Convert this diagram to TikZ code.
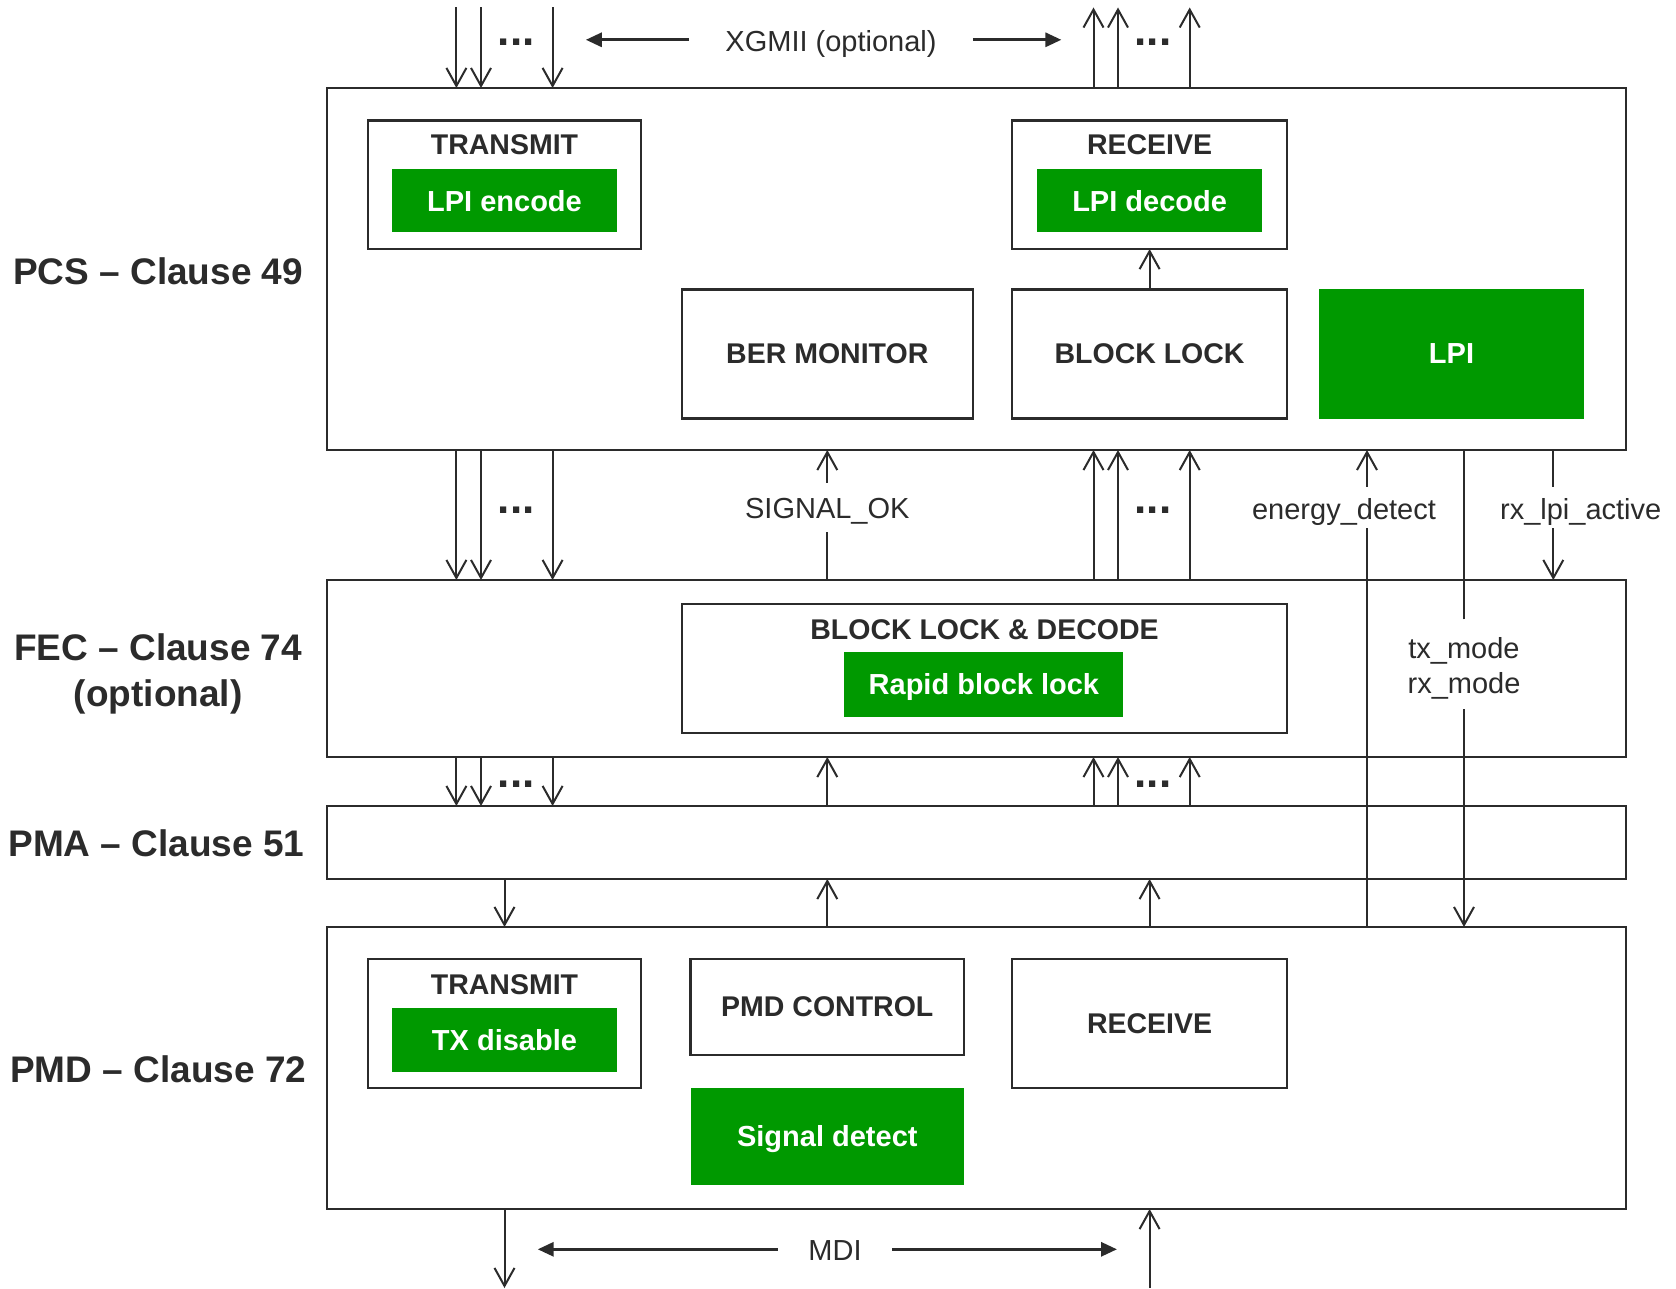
\documentclass[tikz,border=0pt]{standalone}
\usepackage{fontspec}
\setmainfont{Liberation Sans}
\usetikzlibrary{arrows.meta}
\definecolor{ink}{HTML}{2B2B2B}
\definecolor{lpigreen}{HTML}{009900}

\begin{document}
\begin{tikzpicture}[x=1pt,y=-1pt,
  box/.style={draw=ink, line width=2.2pt, fill=white, inner sep=0pt, outer sep=0pt,
    text depth=0pt, text=ink, font=\fontsize{28.5}{32}\selectfont\bfseries},
  gbox/.style={fill=lpigreen, inner sep=0pt, outer sep=0pt, text depth=0pt,
    text=white, font=\fontsize{29}{32}\selectfont\bfseries},
  title/.style={inner sep=0pt, text=ink, font=\fontsize{28.5}{32}\selectfont\bfseries},
  layer/.style={inner sep=0pt, text=ink, font=\fontsize{37}{42}\selectfont\bfseries},
  lbl/.style={inner sep=0pt, text=ink, font=\fontsize{29}{34}\selectfont},
  dots/.style={inner sep=0pt, text=ink, font=\fontsize{44}{48}\selectfont\bfseries},
  ln/.style={draw=ink, line width=2pt},
  arr/.style={ln, -{Straight Barb[length=18pt,width=20pt]}},
  big/.style={draw=ink, line width=3pt, -{Triangle[length=16pt,width=14pt]}}
]
\useasboundingbox (0,0) rectangle (1676,1289);

% ---- layer boxes ----
\node[box, minimum width=1299pt, minimum height=362pt] (pcs) at (976.5,269) {};
\node[box, minimum width=1299pt, minimum height=177pt] (fec) at (976.5,668.5) {};
\node[box, minimum width=1299pt, minimum height=73pt]  (pma) at (976.5,842.5) {};
\node[box, minimum width=1299pt, minimum height=282pt] (pmd) at (976.5,1068) {};

% ---- layer names ----
\node[layer, anchor=base] (pcsname) at (158.2,284.7) {PCS – Clause 49};
\node[layer, anchor=base] (fecname) at (158.2,660) {FEC – Clause 74};
\node[layer, anchor=base] (fecopt)  at (158.2,706) {(optional)};
\node[layer, anchor=base] (pmaname) at (156.5,856.7) {PMA – Clause 51};
\node[layer, anchor=base] (pmdname) at (158.2,1082) {PMD – Clause 72};

% ---- PCS contents ----
\node[box, minimum width=273.6pt, minimum height=128.5pt] (pcstx) at (504.5,184.8) {};
\node[title, anchor=base] (pcstxt) at (504.5,155) {TRANSMIT};
\node[gbox, minimum width=224.5pt, minimum height=63.5pt] (lpienc) at (504.5,200.5) {LPI encode};

\node[box, minimum width=274.8pt, minimum height=128.5pt] (pcsrx) at (1149.6,184.8) {};
\node[title, anchor=base] (pcsrxt) at (1149.6,155) {RECEIVE};
\node[gbox, minimum width=225.6pt, minimum height=63.5pt] (lpidec) at (1149.6,200.5) {LPI decode};

\node[box, minimum width=290.7pt, minimum height=129pt] (ber) at (827.3,354) {BER MONITOR};
\node[box, minimum width=274.8pt, minimum height=129pt] (blk) at (1149.6,354) {BLOCK LOCK};
\node[gbox, minimum width=265pt, minimum height=129pt] (lpi) at (1451.5,354) {LPI};

% ---- FEC contents ----
\node[box, minimum width=605pt, minimum height=129.3pt] (bld) at (984.5,668.7) {};
\node[title, anchor=base] (bldt) at (984.5,639.3) {BLOCK LOCK \& DECODE};
\node[gbox, minimum width=279pt, minimum height=64.5pt] (rbl) at (983.9,684.3) {Rapid block lock};

% ---- PMD contents ----
\node[box, minimum width=273.6pt, minimum height=129.3pt] (pmdtx) at (504.5,1023.4) {};
\node[title, anchor=base] (pmdtxt) at (504.5,994) {TRANSMIT};
\node[gbox, minimum width=224.5pt, minimum height=64pt] (txdis) at (504.5,1040) {TX disable};
\node[box, minimum width=273.6pt, minimum height=96.2pt] (pmdctl) at (827.3,1006.9) {PMD CONTROL};
\node[gbox, minimum width=273.6pt, minimum height=96.7pt] (sigdet) at (827.3,1136.4) {Signal detect};
\node[box, minimum width=274.8pt, minimum height=129.3pt] (pmdrx) at (1149.6,1023.4) {RECEIVE};

% ---- connector columns and free ends ----
\coordinate (cA) at (456.4,0);
\coordinate (cB) at (481,0);
\coordinate (cC) at (552.6,0);
\coordinate (cD) at (1093.5,0);
\coordinate (cE) at (1118,0);
\coordinate (cF) at (1189.7,0);
\coordinate (cS) at (827.3,0);
\coordinate (cT) at (504.5,0);
\coordinate (cR) at (1149.6,0);
\coordinate (top) at (0,7.5);
\coordinate (bot) at (0,1288);

% data paths
\foreach \c in {cA,cB,cC} {
  \draw[arr] (\c |- top) -- (\c |- pcs.north);
  \draw[arr] (\c |- pcs.south) -- (\c |- fec.north);
  \draw[arr] (\c |- fec.south) -- (\c |- pma.north);
}
\foreach \c in {cD,cE,cF} {
  \draw[arr] (\c |- pcs.north) -- (\c |- top);
  \draw[arr] (\c |- fec.north) -- (\c |- pcs.south);
  \draw[arr] (\c |- pma.north) -- (\c |- fec.south);
}
\draw[arr] (cT |- pma.south) -- (cT |- pmd.north);
\draw[arr] (cT |- pmd.south) -- (cT |- bot);
\draw[arr] (cS |- pmd.north) -- (cS |- pma.south);
\draw[arr] (cS |- pma.north) -- (cS |- fec.south);
\draw[arr] (cR |- pmd.north) -- (cR |- pma.south);
\draw[arr] (cR |- bot) -- (cR |- pmd.south);
\draw[arr] (blk.north) -- (pcsrx.south);

% ellipses between parallel lanes
\node[dots, anchor=base] (dotsA) at (516.3,46) {...};
\node[dots, anchor=base] (dotsB) at (1153,46) {...};
\node[dots, anchor=base] (dotsC) at (516.3,513) {...};
\node[dots, anchor=base] (dotsD) at (1153,513) {...};
\node[dots, anchor=base] (dotsE) at (516.3,787.7) {...};
\node[dots, anchor=base] (dotsF) at (1153,787.7) {...};

% XGMII and MDI interfaces
\node[lbl, anchor=base, inner xsep=36pt] (xgmii) at (831,51.7) {XGMII (optional)};
\coordinate (xl) at (585.8,39.8);
\coordinate (xr) at (1061.4,39.8);
\draw[big] (xgmii.west |- xl) -- (xl);
\draw[big] (xgmii.east |- xr) -- (xr);

\node[lbl, anchor=base, inner xsep=30.5pt] (mdi) at (835,1260.7) {MDI};
\coordinate (ml) at (537.7,1249.3);
\coordinate (mr) at (1117,1249.3);
\draw[big] (mdi.west |- ml) -- (ml);
\draw[big] (mdi.east |- mr) -- (mr);

% SIGNAL_OK
\node[lbl, anchor=base] (sigok) at (827.3,518.5) {SIGNAL\_OK};
\coordinate (sg1) at (827.3,482.7);
\coordinate (sg2) at (827.3,532.3);
\draw[arr] (sg1) -- (sg1 |- pcs.south);
\draw[ln] (sg2) -- (sg2 |- fec.north);

% energy_detect
\node[lbl, anchor=base] (endet) at (1344,519) {energy\_detect};
\coordinate (en1) at (1367,486.7);
\coordinate (en2) at (1367,528.3);
\draw[arr] (en1) -- (en1 |- pcs.south);
\draw[ln] (en2) -- (en2 |- pmd.north);

% rx_lpi_active
\node[lbl, anchor=base] (rxlpi) at (1580.7,519) {rx\_lpi\_active};
\coordinate (rl1) at (1553.3,486.7);
\coordinate (rl2) at (1553.3,528.3);
\draw[ln] (rl1) -- (rl1 |- pcs.south);
\draw[arr] (rl2) -- (rl2 |- fec.north);

% tx_mode / rx_mode
\node[lbl, anchor=base] (txm) at (1464,658.3) {tx\_mode};
\node[lbl, anchor=base] (rxm) at (1464,693.3) {rx\_mode};
\coordinate (tm1) at (1464,619.3);
\coordinate (tm2) at (1464,709.3);
\draw[ln] (tm1) -- (tm1 |- pcs.south);
\draw[arr] (tm2) -- (tm2 |- pmd.north);

\end{tikzpicture}
\end{document}
